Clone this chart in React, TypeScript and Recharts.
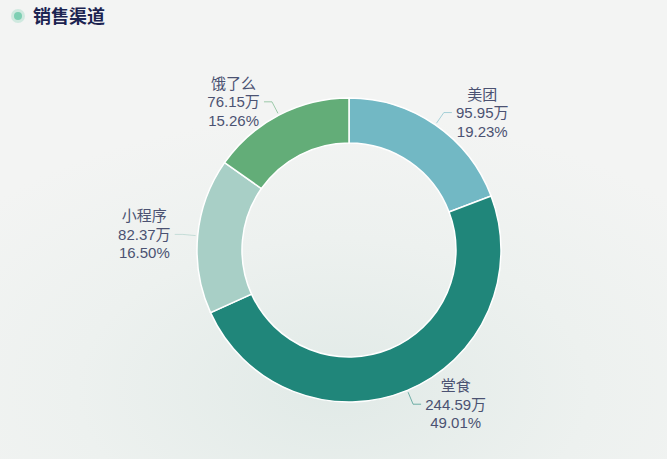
import React from "react";
import { PieChart, Pie, Cell } from "recharts";

const categories = ["美团", "堂食", "小程序", "饿了么"];
const amounts = [95.95, 244.59, 82.37, 76.15];
const percents = ["19.23%", "49.01%", "16.50%", "15.26%"];
const colors = ["#72b8c4", "#20867a", "#a8cfc6", "#63ad78"];

const data = categories.map((name, i) => ({
  name,
  value: amounts[i],
  amountLabel: amounts[i].toFixed(2) + "万",
  pctLabel: percents[i],
}));

const FS = 15;
const LH = 18.5;
const RADIAN = Math.PI / 180;

function textWidth(s: string) {
  let w = 0;
  for (const ch of s) {
    if (/[0-9]/.test(ch)) w += 0.56 * FS;
    else if (ch === ".") w += 0.28 * FS;
    else if (ch === "%") w += 0.89 * FS;
    else w += FS;
  }
  return w;
}

const renderLabel = (props: any) => {
  const { cx, cy, midAngle, outerRadius, payload, index } = props;
  const cos = Math.cos(-midAngle * RADIAN);
  const sin = Math.sin(-midAngle * RADIAN);
  const sx = cx + (outerRadius + 2) * cos;
  const sy = cy + (outerRadius + 2) * sin;
  const mx = cx + (outerRadius + 15) * cos;
  const my = cy + (outerRadius + 15) * sin;
  const sign = cos >= 0 ? 1 : -1;
  const ex = mx + sign * 8;
  const ey = my;
  const lines = [payload.name, payload.amountLabel, payload.pctLabel];
  const bw = Math.max(...lines.map(textWidth));
  const tx = ex + sign * (bw / 2 + 4);
  return (
    <g>
      <polyline
        points={`${sx},${sy} ${mx},${my} ${ex},${ey}`}
        fill="none"
        stroke={colors[index]}
        strokeOpacity={0.6}
        strokeWidth={1}
      />
      {lines.map((t, i) => (
        <text
          key={i}
          x={tx}
          y={ey + (i - 1) * LH}
          textAnchor="middle"
          dominantBaseline="central"
          fill="#4b5272"
          fontSize={FS}
          fontFamily="'Liberation Sans', 'Noto Sans CJK SC', sans-serif"
        >
          {t}
        </text>
      ))}
    </g>
  );
};

export default function App() {
  return (
    <div
      style={{
        position: "absolute",
        left: 0,
        top: 0,
        width: 667,
        height: 459,
        overflow: "hidden",
        background:
          "radial-gradient(ellipse 70% 60% at 50% 85%, #e1eae7 0%, #edf1ef 55%, #f3f4f3 100%)",
      }}
    >
      <div
        style={{
          position: "absolute",
          left: 11,
          top: 9,
          width: 14,
          height: 14,
          borderRadius: "50%",
          background: "rgba(126, 207, 179, 0.3)",
        }}
      />
      <div
        style={{
          position: "absolute",
          left: 14,
          top: 12,
          width: 8,
          height: 8,
          borderRadius: "50%",
          background: "#7ecfb3",
        }}
      />
      <div
        style={{
          position: "absolute",
          left: 33,
          top: 3,
          fontSize: 18,
          fontWeight: 700,
          color: "#1c2451",
          fontFamily: "'Noto Sans CJK SC', sans-serif",
          lineHeight: "25px",
        }}
      >
        销售渠道
      </div>
      <PieChart
        width={667}
        height={459}
        margin={{ top: 0, right: 0, bottom: 0, left: 0 }}
        style={{ position: "absolute", left: 0, top: 0 }}
      >
        <Pie
          data={data}
          dataKey="value"
          nameKey="name"
          cx={349}
          cy={250}
          innerRadius={107}
          outerRadius={152}
          startAngle={90}
          endAngle={-270}
          stroke="#ffffff"
          strokeWidth={1.5}
          label={renderLabel}
          labelLine={false}
          isAnimationActive={false}
        >
          {data.map((d, i) => (
            <Cell key={d.name} fill={colors[i]} />
          ))}
        </Pie>
      </PieChart>
    </div>
  );
}
